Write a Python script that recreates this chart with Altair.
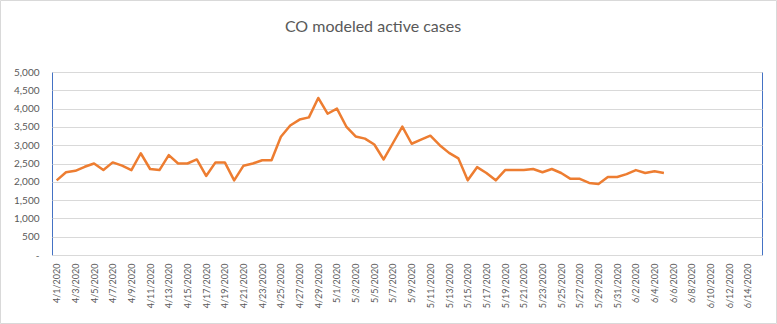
import altair as alt
import pandas as pd

# Category axis: 4/1/2020 .. 6/15/2020
all_dates = [f"{d.month}/{d.day}/{d.year}" for d in pd.date_range("2020-04-01", "2020-06-15")]
tick_labels = all_dates[::2]

active_cases = [
    2040, 2260, 2300, 2410, 2500, 2320, 2530, 2440, 2320, 2780,   # 4/1 - 4/10
    2350, 2320, 2730, 2500, 2500, 2610, 2160, 2530, 2530, 2040,   # 4/11 - 4/20
    2440, 2500, 2590, 2590, 3230, 3540, 3700, 3760, 4290, 3860,   # 4/21 - 4/30
    4000, 3510, 3240, 3180, 3020, 2610, 3060, 3510, 3040, 3150,   # 5/1 - 5/10
    3260, 3000, 2790, 2640, 2040, 2400, 2240, 2040, 2320, 2320,   # 5/11 - 5/20
    2320, 2350, 2260, 2350, 2240, 2080, 2080, 1970, 1940, 2130,   # 5/21 - 5/30
    2130, 2210, 2320, 2240, 2290, 2240,                           # 5/31 - 6/5
]
data_dates = all_dates[:len(active_cases)]
chart_title = "CO modeled active cases"

df = pd.DataFrame({"date": data_dates, "cases": active_cases})

TEXT = "#595959"
GRID = "#D9D9D9"

line = alt.Chart(df).mark_line(color="#ED7D31", strokeWidth=2.5, strokeJoin="round").encode(
    x=alt.X("date:O", sort=all_dates,
            scale=alt.Scale(domain=all_dates, type="point", padding=0.5),
            axis=alt.Axis(title=None, values=tick_labels, labelAngle=-90, labelFontSize=9,
                          labelColor=TEXT, labelPadding=8, ticks=False, domainColor=GRID,
                          domainWidth=1, grid=False, labelFont="Lato")),
    y=alt.Y("cases:Q", scale=alt.Scale(domain=[0, 5000], nice=False),
            axis=alt.Axis(title=None, values=list(range(0, 5001, 500)), labelFontSize=10,
                          labelColor=TEXT, labelPadding=13, ticks=False, domain=False,
                          gridColor=GRID, gridWidth=1, labelFont="Lato",
                          labelExpr="datum.value == 0 ? '-\u00a0\u00a0' : format(datum.value, ',')")),
)

border = alt.Chart(alt.Data(values=[{}])).mark_rect(
    fill=None, stroke=GRID, strokeWidth=1, clip=False
).encode(
    x=alt.value(-51.5), x2=alt.value(724.5), y=alt.value(-71.5), y2=alt.value(251.5)
)

title = alt.Chart(alt.Data(values=[{"t": chart_title}])).mark_text(
    font="Lato", fontSize=16, color=TEXT, align="center", baseline="middle", clip=False
).encode(text="t:N", x=alt.value(321), y=alt.value(-45))

chart = alt.layer(border, line, title).properties(
    width=710,
    height=183,
    autosize=alt.AutoSizeParams(type="none"),
    padding={"left": 52, "top": 72, "right": 15, "bottom": 69},
).configure(
    background="white",
    view=alt.ViewConfig(stroke="#4472C4", strokeWidth=1),
)

chart.save("out.html", embed_options={"renderer": "svg", "actions": False})
